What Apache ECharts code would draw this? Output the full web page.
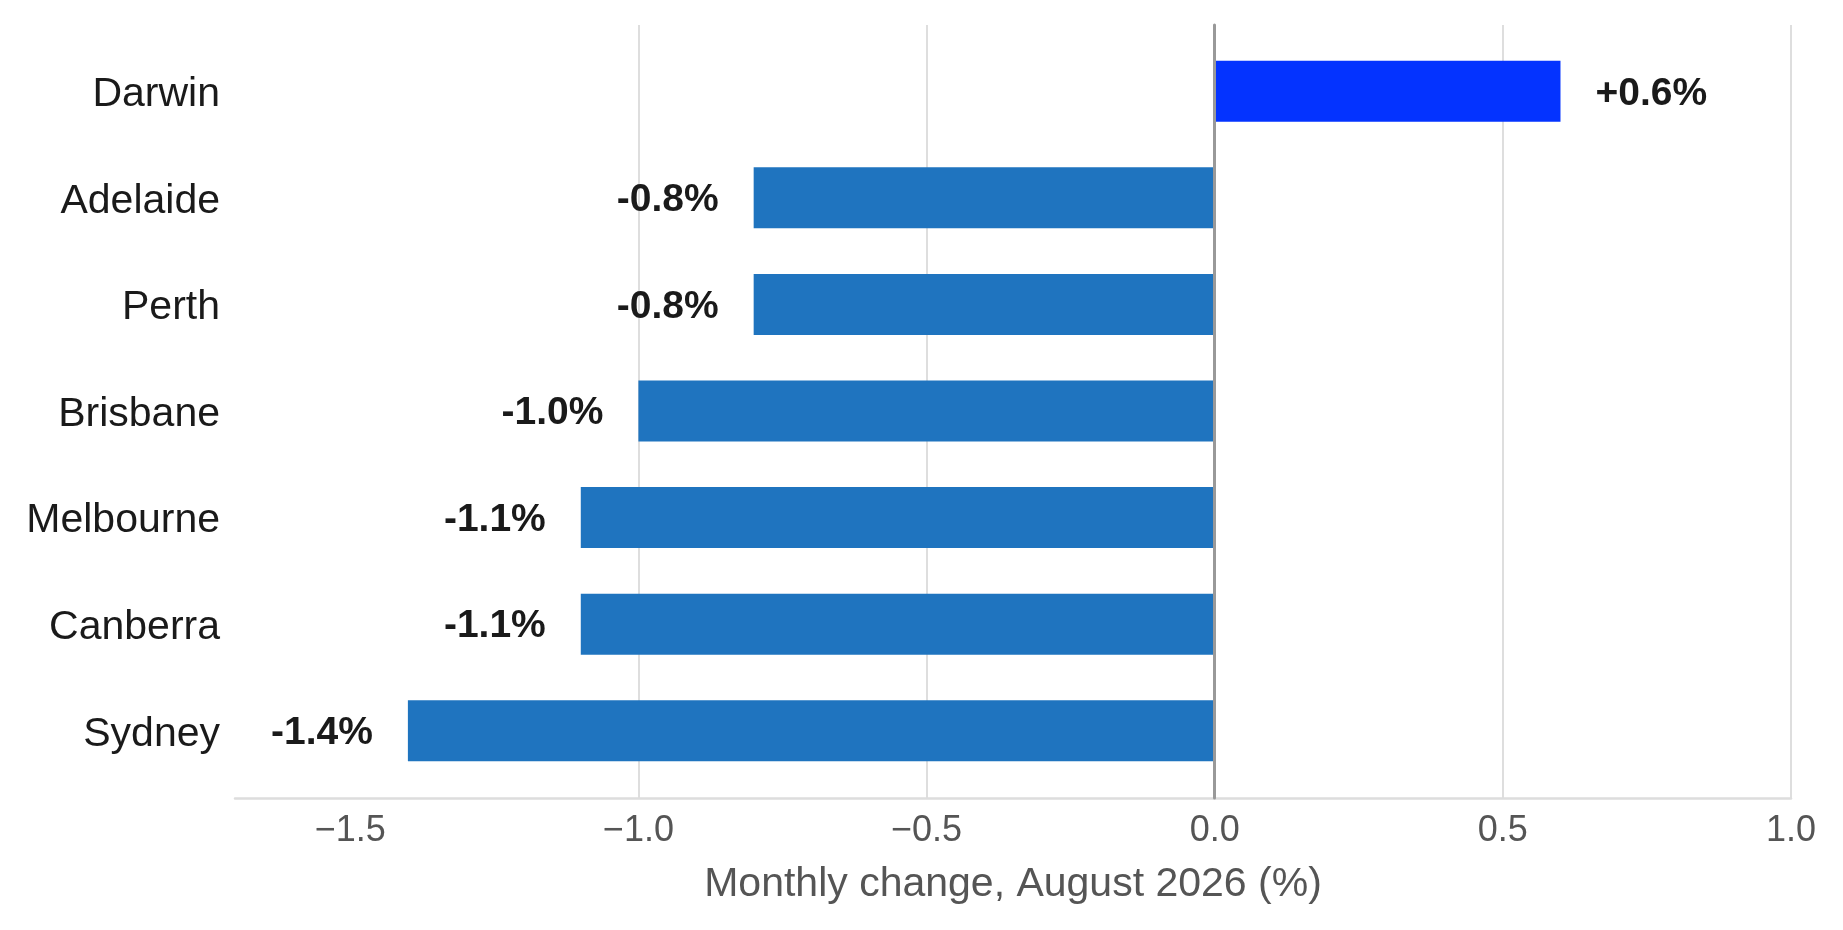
<!DOCTYPE html>
<html>
<head>
<meta charset="utf-8">
<title>Monthly change by city</title>
<script src="https://cdn.jsdelivr.net/npm/echarts@6/dist/echarts.min.js"></script>
<style>
  html, body { margin: 0; padding: 0; background: #fff; }
  #chart { width: 1843px; height: 930px; }
</style>
</head>
<body>
<div id="chart"></div>
<script>
// data
var cities = ['Darwin', 'Adelaide', 'Perth', 'Brisbane', 'Melbourne', 'Canberra', 'Sydney'];
var changes = [0.6, -0.8, -0.8, -1.0, -1.1, -1.1, -1.4];
var tickValues = [-1.5, -1.0, -0.5, 0, 0.5, 1.0];
var axisTitle = 'Monthly change, August 2026 (%)';

var FONT = '"Liberation Sans", Arial, sans-serif';
var X_MIN = -1.7, X_MAX = 1.0;

var chart = echarts.init(document.getElementById('chart'));

var barData = changes.map(function (v) {
  return {
    value: v,
    itemStyle: { color: v > 0 ? '#0433ff' : '#1f74bf' },
    label: { position: v > 0 ? 'right' : 'left' }
  };
});

var option = {
  animation: false,
  backgroundColor: '#fff',
  textStyle: { fontFamily: FONT },
  grid: [
    // background grid: gridlines, zero line, bottom axis
    { left: 235, right: 52, top: 25, bottom: 132 },
    // bars
    { left: 235, right: 52, top: 38, bottom: 146 }
  ],
  xAxis: [
    {
      gridIndex: 0,
      type: 'value',
      min: X_MIN,
      max: X_MAX,
      name: axisTitle,
      nameLocation: 'middle',
      nameGap: 66,
      nameTextStyle: { fontFamily: FONT, fontSize: 41, color: '#555' },
      axisLine: { show: true, onZero: false, lineStyle: { color: '#dddddd', width: 2.5 } },
      axisTick: { show: false, customValues: tickValues },
      axisLabel: {
        customValues: tickValues,
        fontFamily: FONT,
        fontSize: 36,
        color: '#555',
        margin: 15,
        formatter: function (v) {
          return (v < 0 ? '\u2212' : '') + Math.abs(v).toFixed(1);
        }
      },
      splitLine: {
        show: true,
        showMinLine: false,
        showMaxLine: true,
        lineStyle: { color: '#dedede', width: 2 }
      }
    },
    {
      gridIndex: 1,
      type: 'value',
      min: X_MIN,
      max: X_MAX,
      show: false
    }
  ],
  yAxis: [
    {
      gridIndex: 0,
      type: 'value',
      min: 0,
      max: 1,
      z: 5,
      axisLine: { show: true, onZero: true, lineStyle: { color: '#999999', width: 3 } },
      axisTick: { show: false },
      axisLabel: { show: false },
      splitLine: { show: false }
    },
    {
      gridIndex: 1,
      type: 'category',
      inverse: true,
      data: cities,
      axisLine: { show: false },
      axisTick: { show: false },
      splitLine: { show: false },
      axisLabel: {
        margin: 15,
        formatter: function (v) { return '{c|' + v + '}'; },
        rich: {
          c: { fontFamily: FONT, fontSize: 41, color: '#1a1a1a', padding: [7, 0, 0, 0] }
        }
      }
    }
  ],
  series: [
    {
      type: 'bar',
      xAxisIndex: 1,
      yAxisIndex: 1,
      barWidth: 61,
      data: barData,
      label: {
        show: true,
        distance: 35,
        formatter: function (p) {
          return '{v|' + (p.value > 0 ? '+' : '') + p.value.toFixed(1) + '%}';
        },
        rich: {
          v: {
            fontFamily: FONT,
            fontSize: 39,
            fontWeight: 'bold',
            color: '#1a1a1a',
            padding: [5, 0, 0, 0]
          }
        }
      }
    }
  ]
};

chart.setOption(option);
</script>
</body>
</html>
